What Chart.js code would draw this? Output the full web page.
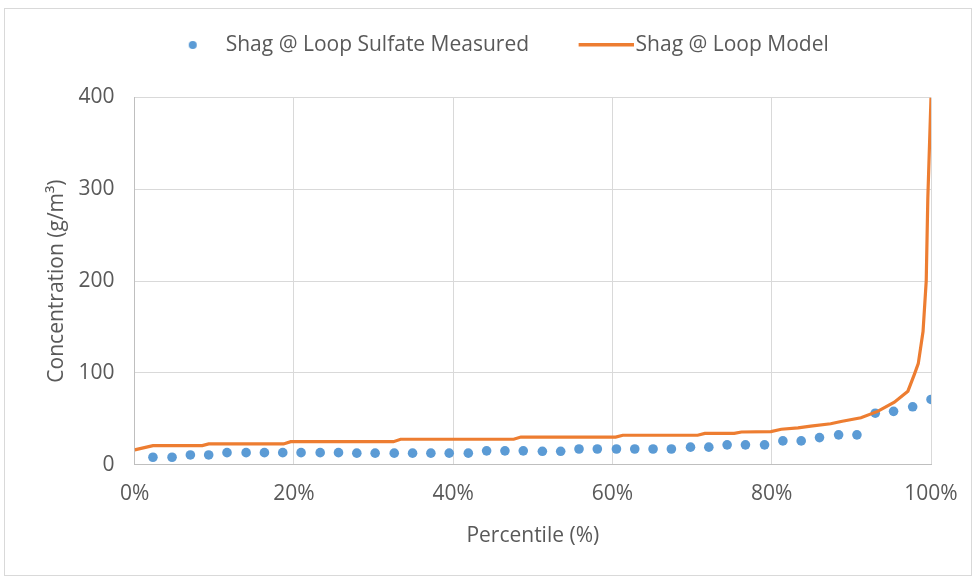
<!DOCTYPE html>
<html>
<head>
<meta charset="utf-8">
<script src="https://cdn.jsdelivr.net/npm/chart.js@4.4.1/dist/chart.umd.min.js"></script>
<style>
  html, body { margin: 0; padding: 0; background: #ffffff; }
  #wrap { position: relative; width: 975px; height: 578px; }
  #frame { position: absolute; left: 4px; top: 8px; width: 966px; height: 566px; border: 1px solid #d9d9d9; pointer-events: none; }
  canvas { position: absolute; left: 0; top: 0; }
</style>
</head>
<body>
<div id="wrap">
  <canvas id="chart" width="975" height="578"></canvas>
  <div id="frame"></div>
</div>
<script>
// Measured sulfate concentrations at Shag @ Loop, ranked by percentile (%)
const measuredPercentile = [2.3, 4.7, 7.0, 9.3, 11.6, 14.0, 16.3, 18.6, 20.9, 23.3, 25.6, 27.9, 30.2, 32.6, 34.9, 37.2, 39.5, 41.9, 44.2, 46.5, 48.8, 51.2, 53.5, 55.8, 58.1, 60.5, 62.8, 65.1, 67.4, 69.8, 72.1, 74.4, 76.7, 79.1, 81.4, 83.7, 86.0, 88.4, 90.7, 93.0, 95.3, 97.7, 100];
const measuredConc = [8, 8, 10.5, 10.5, 13, 13, 13, 13, 13, 13, 13, 12.5, 12.5, 12.5, 12.5, 12.5, 12.5, 12.5, 15, 15, 15, 14.5, 14.5, 17, 17, 17, 17, 17, 17, 19, 19, 21.5, 21.5, 21.5, 25.8, 25.8, 29.4, 32.4, 32.4, 56, 58, 63, 71];

// Modelled concentration curve (g/m3) against percentile (%)
const modelPercentile = [0, 2.3, 8.5, 9.3, 18.7, 19.6, 32.5, 33.4, 47.6, 48.5, 60.4, 61.3, 70.7, 71.6, 75.3, 76.2, 79.9, 81.2, 83.3, 84.9, 87.4, 88.7, 91.2, 93.3, 95.4, 97.1, 97.9, 98.4, 99.0, 99.4, 99.6, 100];
const modelConc = [16, 20.7, 20.7, 22.5, 22.5, 25, 25, 27.6, 27.6, 30, 30, 32, 32, 34, 34, 35.5, 36, 38.5, 40, 42, 44.5, 47, 51, 58, 68, 80, 98, 110, 145, 200, 290, 400];

const seriesNames = ['Shag @ Loop Sulfate Measured', 'Shag @ Loop Model'];
const xTickValues = [0, 20, 40, 60, 80, 100];
const yTickValues = [0, 100, 200, 300, 400];

const BLUE = '#5B9BD5';
const ORANGE = '#ED7D31';
const TEXT = '#595959';
const GRID = '#d9d9d9';
const FONT = { family: 'Open Sans', size: 21 };

function toPoints(xs, ys) {
  return xs.map((x, i) => ({ x: x, y: ys[i] }));
}

// Legend symbols: a small dot for the measured series, a short stroke for the model
function dotSymbol() {
  const c = document.createElement('canvas');
  c.width = 10; c.height = 10;
  const g = c.getContext('2d');
  g.fillStyle = BLUE;
  g.beginPath(); g.arc(5, 5, 4, 0, Math.PI * 2); g.fill();
  return c;
}
function lineSymbol() {
  const c = document.createElement('canvas');
  c.width = 62; c.height = 4;
  const g = c.getContext('2d');
  g.fillStyle = ORANGE;
  g.fillRect(7, 0, 55, 3.5);
  return c;
}
const legendSymbols = [dotSymbol(), lineSymbol()];

// Legend placement: extra room below it and a small nudge to the right
const legendPlacement = {
  id: 'legendPlacement',
  beforeInit(chart) {
    const legend = chart.legend;
    const fit = legend.fit;
    legend.fit = function () {
      fit.call(this);
      this.height += 32;
    };
    const draw = legend.draw;
    legend.draw = function () {
      const ctx = this.ctx;
      ctx.save();
      ctx.translate(14, 0);
      draw.apply(this, arguments);
      ctx.restore();
    };
  }
};

new Chart(document.getElementById('chart'), {
  type: 'scatter',
  data: {
    datasets: [
      {
        label: seriesNames[0],
        data: toPoints(measuredPercentile, measuredConc),
        backgroundColor: BLUE,
        borderColor: BLUE,
        pointRadius: 4.8,
        pointBorderWidth: 0,
        pointHoverRadius: 4.8,
        showLine: false,
        order: 2
      },
      {
        label: seriesNames[1],
        data: toPoints(modelPercentile, modelConc),
        borderColor: ORANGE,
        backgroundColor: ORANGE,
        borderWidth: 3.2,
        pointRadius: 0,
        pointHoverRadius: 0,
        showLine: true,
        tension: 0,
        order: 1
      }
    ]
  },
  options: {
    responsive: false,
    animation: false,
    devicePixelRatio: 1,
    layout: { padding: { top: -16.5, left: 40, right: 44, bottom: 25 } },
    plugins: {
      tooltip: { enabled: false },
      legend: {
        position: 'top',
        labels: {
          color: TEXT,
          font: FONT,
          usePointStyle: true,
          pointStyleWidth: 45,
          boxHeight: 21,
          padding: 51,
          sort: (a, b) => a.datasetIndex - b.datasetIndex,
          generateLabels(chart) {
            const items = Chart.defaults.plugins.legend.labels.generateLabels(chart);
            items.forEach((it) => { it.pointStyle = legendSymbols[it.datasetIndex]; });
            return items;
          }
        }
      }
    },
    scales: {
      x: {
        type: 'linear',
        min: 0,
        max: 100,
        afterBuildTicks(scale) { scale.ticks = xTickValues.map(v => ({ value: v })); },
        ticks: {
          color: TEXT,
          font: FONT,
          padding: 17,
          maxRotation: 0,
          callback: (v) => v + '%'
        },
        grid: { color: GRID, lineWidth: 1, drawTicks: false },
        border: { color: '#bfbfbf', width: 1 },
        title: {
          display: true,
          text: 'Percentile (%)',
          color: TEXT,
          font: FONT,
          padding: { top: 0, bottom: 4 }
        }
      },
      y: {
        type: 'linear',
        min: 0,
        max: 400,
        afterBuildTicks(scale) { scale.ticks = yTickValues.map(v => ({ value: v })); },
        ticks: {
          color: TEXT,
          font: FONT,
          padding: 20
        },
        grid: { color: GRID, lineWidth: 1, drawTicks: false },
        border: { color: '#bfbfbf', width: 1 },
        title: {
          display: true,
          text: 'Concentration (g/m³)',
          color: TEXT,
          font: FONT,
          padding: { top: 4.4, bottom: -11 }
        }
      }
    }
  },
  plugins: [legendPlacement]
});
</script>
</body>
</html>
